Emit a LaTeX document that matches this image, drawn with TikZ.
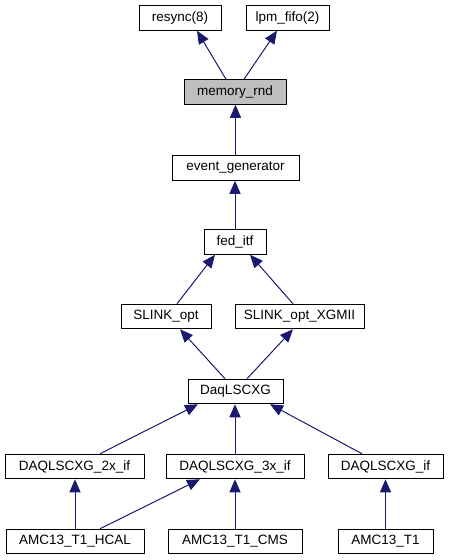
\documentclass[tikz,border=0pt]{standalone}
\usepackage{fontspec}
\setmainfont{Liberation Sans}
\usetikzlibrary{arrows.meta}
\definecolor{edgeblue}{HTML}{191970}
\definecolor{hilite}{HTML}{BFBFBF}
\begin{document}
\begin{tikzpicture}[x=1pt,y=-1pt,
  cls/.style={draw=black,line width=1pt,fill=white,rectangle,minimum height=24.5pt,inner sep=0pt,font=\fontsize{13.5}{15}\selectfont},
  edge/.style={draw=edgeblue,line width=1pt,-{Triangle[length=13pt,width=11pt]}}]
\useasboundingbox (0,0) rectangle (449,560);
\node[cls,minimum width=82pt] (resync) at (180,18) {resync(8)};
\node[cls,minimum width=83pt] (lpm) at (287.5,18) {lpm\_fifo(2)};
\node[cls,minimum width=102pt,fill=hilite] (memory) at (235,92) {memory\_rnd};
\node[cls,minimum width=127pt] (event) at (235.5,168) {event\_generator};
\node[cls,minimum width=62pt] (fed) at (235,242) {fed\_itf};
\node[cls,minimum width=90pt] (slink) at (166,316.5) {SLINK\_opt};
\node[cls,minimum width=129pt] (slinkx) at (299.5,316.5) {SLINK\_opt\_XGMII};
\node[cls,minimum width=95pt] (daq) at (235.5,391.5) {DaqLSCXG};
\node[cls,minimum width=139pt] (dtwo) at (74.5,466.5) {DAQLSCXG\_2x\_if};
\node[cls,minimum width=138pt] (dthree) at (235,466.5) {DAQLSCXG\_3x\_if};
\node[cls,minimum width=115pt] (dif) at (385.5,466.5) {DAQLSCXG\_if};
\node[cls,minimum width=138pt] (hcal) at (75,541.5) {AMC13\_T1\_HCAL};
\node[cls,minimum width=134pt] (cms) at (235,541.5) {AMC13\_T1\_CMS};
\node[cls,minimum width=95pt] (tone) at (385.5,541.5) {AMC13\_T1};
\draw[edge] ([xshift=-9pt]memory.north) -- ([xshift=17pt]resync.south);
\draw[edge] ([xshift=9pt]memory.north) -- ([xshift=-10.5pt]lpm.south);
\draw[edge] (event.north) -- (event.north |- memory.south);
\draw[edge] (fed.north) -- (fed.north |- event.south);
\draw[edge] ([xshift=11pt]slink.north) -- ([xshift=-20pt]fed.south);
\draw[edge] ([xshift=-6.5pt]slinkx.north) -- ([xshift=15pt]fed.south);
\draw[edge] ([xshift=-10.5pt]daq.north) -- ([xshift=14pt]slink.south);
\draw[edge] ([xshift=11.5pt]daq.north) -- ([xshift=-6.5pt]slinkx.south);
\draw[edge] ([xshift=25.5pt]dtwo.north) -- ([xshift=-37.5pt]daq.south);
\draw[edge] (dthree.north) -- (dthree.north |- daq.south);
\draw[edge] ([xshift=-23.5pt]dif.north) -- ([xshift=34.5pt]daq.south);
\draw[edge] (hcal.north) -- (hcal.north |- dtwo.south);
\draw[edge] ([xshift=25pt]hcal.north) -- ([xshift=-35pt]dthree.south);
\draw[edge] (cms.north) -- (cms.north |- dthree.south);
\draw[edge] (tone.north) -- (tone.north |- dif.south);
\end{tikzpicture}
\end{document}
